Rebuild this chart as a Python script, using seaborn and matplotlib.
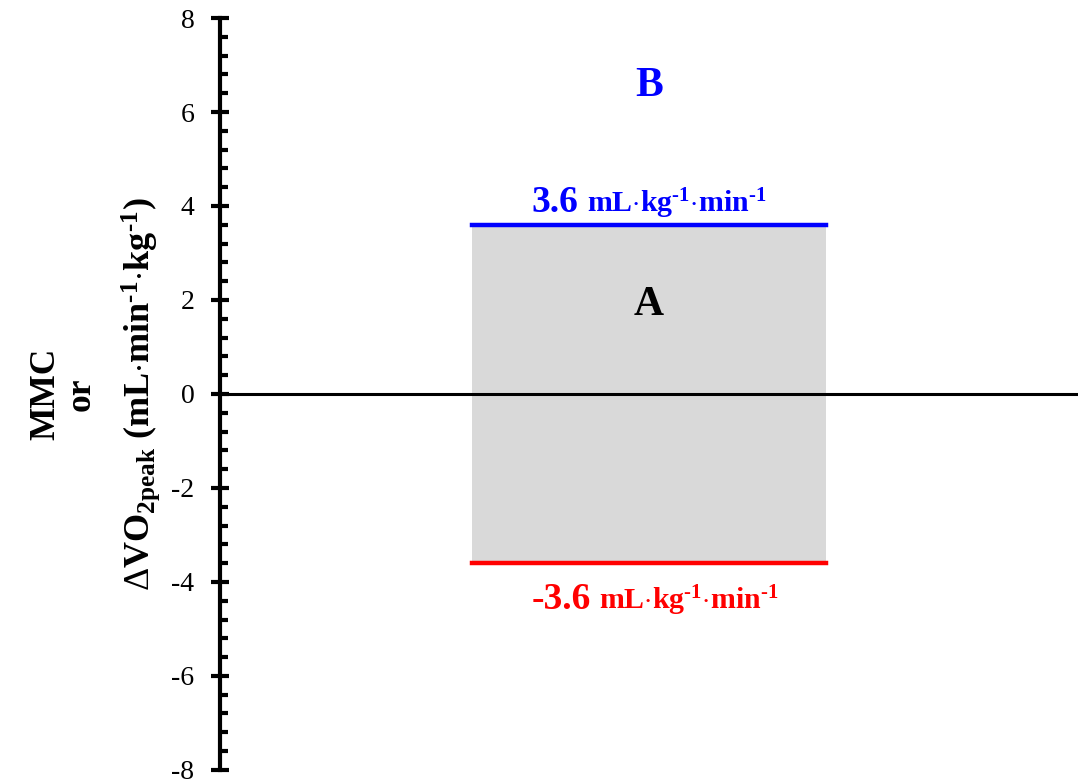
import matplotlib
matplotlib.use("Agg")
import matplotlib.pyplot as plt
from matplotlib.ticker import MultipleLocator
import numpy as np
import pandas as pd
import seaborn as sns

# Minimal meaningful change band (mL·kg-1·min-1)
mmc_upper = 3.6
mmc_lower = -3.6
band_x = [0.294, 0.706]
y_ticks = [-8, -6, -4, -2, 0, 2, 4, 6, 8]
zone_labels = ["A", "B"]
zone_y = [1.9, 6.55]

sns.set_style("white")
plt.rcParams["font.family"] = ["Liberation Serif", "DejaVu Serif"]
plt.rcParams["mathtext.fontset"] = "custom"
plt.rcParams["mathtext.rm"] = "Liberation Serif"
plt.rcParams["mathtext.bf"] = "Liberation Serif:bold"
plt.rcParams["mathtext.it"] = "Liberation Serif:italic"
plt.rcParams["text.color"] = "black"
plt.rcParams["axes.edgecolor"] = "black"
plt.rcParams["ytick.color"] = "black"
plt.rcParams["ytick.labelcolor"] = "black"

fig = plt.figure(figsize=(10.92, 7.84), dpi=100)
ax = fig.add_axes([0.2015, 0.018, 0.7855, 0.959])

# shaded band between thresholds
ax.fill_between(band_x, [mmc_lower] * 2, [mmc_upper] * 2, color="#d9d9d9", lw=0, zorder=1)

lines = pd.DataFrame({
    "x": band_x * 2,
    "y": [mmc_upper] * 2 + [mmc_lower] * 2,
    "bound": ["upper"] * 2 + ["lower"] * 2,
})
sns.lineplot(data=lines, x="x", y="y", hue="bound", palette={"upper": "#0000ff", "lower": "#ff0000"},
             lw=3.2, legend=False, ax=ax, zorder=3, solid_capstyle="projecting")

ax.axhline(0, color="black", lw=2.2, zorder=2)

ax.set_xlim(0, 1)
ax.set_ylim(y_ticks[0], y_ticks[-1])
ax.set_yticks(y_ticks)
ax.set_yticklabels([str(t) for t in y_ticks])
ax.yaxis.set_minor_locator(MultipleLocator(0.4))
ax.tick_params(axis="y", which="major", left=True, direction="inout", length=13, width=3,
               labelsize=20, pad=12, color="black", labelcolor="black")
ax.tick_params(axis="y", which="minor", left=True, direction="in", length=6, width=3, color="black")
ax.set_xticks([])
for side in ["top", "right", "bottom"]:
    ax.spines[side].set_visible(False)
ax.spines["left"].set_linewidth(3)
ax.spines["left"].set_color("black")
ax.set_xlabel("")
ax.set_ylabel("")

hy = "\u2010"
unit = r"$\mathbf{mL{\cdot}kg^{" + hy + r"1}{\cdot}min^{" + hy + r"1}}$"
split_u = 0.423
split_l = 0.437
ax.annotate(f"{mmc_upper:.1f}", xy=(split_u, mmc_upper), xytext=(-3, 9), textcoords="offset points",
            ha="right", va="baseline", color="#0000ff", fontsize=27, fontweight="bold")
ax.annotate(unit, xy=(split_u, mmc_upper), xytext=(3, 9), textcoords="offset points",
            ha="left", va="baseline", color="#0000ff", fontsize=21.5)
ax.annotate(f"{mmc_lower:.1f}", xy=(split_l, mmc_lower), xytext=(-3, -33), textcoords="offset points",
            ha="right", va="baseline", color="#ff0000", fontsize=27, fontweight="bold")
ax.annotate(unit, xy=(split_l, mmc_lower), xytext=(3, -33), textcoords="offset points",
            ha="left", va="baseline", color="#ff0000", fontsize=21.5)

ax.text(0.5, zone_y[0], zone_labels[0], ha="center", va="center", fontsize=30, fontweight="bold", color="black")
ax.text(0.5, zone_y[1], zone_labels[1], ha="center", va="center", fontsize=30, fontweight="bold", color="#0000ff")

# y-axis title in three rotated lines
fig.text(0.042, 0.497, "MMC", rotation=90, ha="center", va="center", fontsize=25.5, fontweight="bold")
fig.text(0.074, 0.497, "or", rotation=90, ha="center", va="center", fontsize=25.5, fontweight="bold")
fig.text(0.129, 0.497,
         r"$\Delta$VO$_{\mathbf{2peak}}$ (mL$\cdot$min$^{\mathbf{" + hy + r"1}}$$\cdot$kg$^{\mathbf{" + hy + r"1}}$)",
         rotation=90, ha="center", va="center", fontsize=26, fontweight="bold")

fig.savefig("out.png", dpi=100)
